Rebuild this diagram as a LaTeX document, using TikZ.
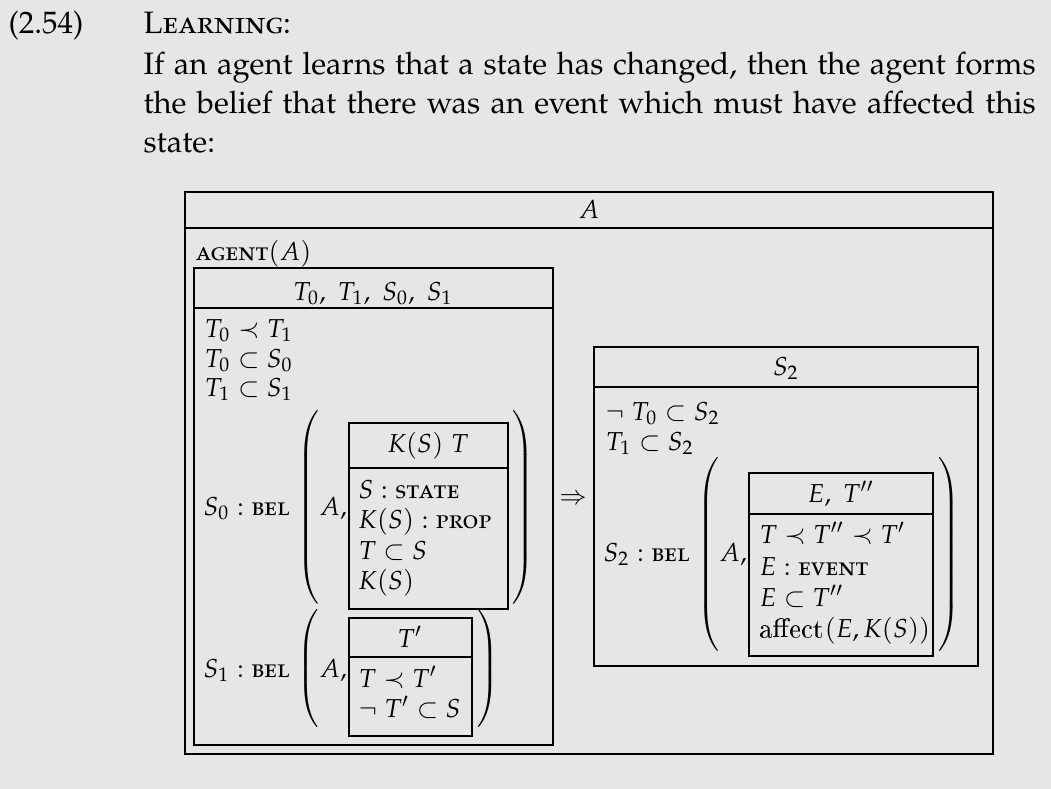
\documentclass[tikz,border=0pt]{standalone}
\usepackage[T1]{fontenc}
\usepackage[sc]{mathpazo}
\usepackage{graphicx}
\renewcommand{\sfdefault}{lmss}

\definecolor{pagegray}{RGB}{230,230,230}

% big delimiters of a given total height
\newcommand{\openpar}[1]{\resizebox*{!}{#1}{$\left(\vrule height \dimexpr#1/2\relax depth \dimexpr#1/2\relax width 0pt\right.$}}
\newcommand{\closepar}[1]{\resizebox*{!}{#1}{$\left.\vrule height \dimexpr#1/2\relax depth \dimexpr#1/2\relax width 0pt\right)$}}

\tikzset{
  maintxt/.style={anchor=base west, inner sep=0pt, font=\fontsize{10.4}{12.5}\selectfont},
  txt/.style={anchor=base west, inner sep=0pt, font=\fontsize{8.7}{10.4}\selectfont},
  ctxt/.style={anchor=base, inner sep=0pt, font=\fontsize{8.7}{10.4}\selectfont},
  paren/.style={inner sep=0pt, font=\fontsize{8.7}{10.4}\selectfont},
  drsbox/.style={draw=black, line width=0.4pt}
}

\begin{document}
\begin{tikzpicture}[x=0.3356pt, y=-0.3356pt]
  % Page
  \fill[pagegray] (0,0) rectangle (1051,789);
  \useasboundingbox (0,0) rectangle (1051,789);

  % Heading and text
  \node[maintxt] (num) at (8,34) {(2.54)};
  \node[maintxt] (title) at (143,34) {\textsc{Learning}:};
  \node[maintxt] (line1) at (143,75) {\makebox[299.4pt][s]{If an agent learns that a state has changed, then the agent forms}};
  \node[maintxt] (line2) at (143,114) {\makebox[299.4pt][s]{the belief that there was an event which must have affected this}};
  \node[maintxt] (line3) at (143,152) {state:};

  % Outer box
  \draw[drsbox] (185,192) rectangle (993,754);
  \draw[drsbox] (185,228) -- (993,228);
  \node[ctxt] (refA) at (589,219) {$A$};
  \node[txt] (agent) at (195,260) {\textsc{agent}$(A)$};

  % Left box
  \draw[drsbox] (194,268) rectangle (553,745);
  \draw[drsbox] (194,308) -- (553,308);
  \node[ctxt] (refL) at (373,300) {$T_0,\ T_1,\ S_0,\ S_1$};
  \node[txt] (condL1) at (204,337) {$T_0 \prec T_1$};
  \node[txt] (condL2) at (204,367) {$T_0 \subset S_0$};
  \node[txt] (condL3) at (204,396) {$T_1 \subset S_1$};

  % S0 belief
  \node[txt] (belS0) at (203,515) {$S_0 : \textsc{bel}$};
  \node[paren] (opS0) at (310,509) {\openpar{66.4pt}};
  \node[txt] (agS0) at (319,515) {$A,$};
  \draw[drsbox] (349,423) rectangle (508,609);
  \draw[drsbox] (349,468) -- (508,468);
  \node[ctxt] (refK) at (428,452) {$K(S)\ T$};
  \node[txt] (condK1) at (358,498) {$S : \textsc{state}$};
  \node[txt] (condK2) at (358,528) {$K(S) : \textsc{prop}$};
  \node[txt] (condK3) at (358,559) {$T \subset S$};
  \node[txt] (condK4) at (358,589) {$K(S)$};
  \node[paren] (clS0) at (522,509) {\closepar{66.4pt}};

  % S1 belief
  \node[txt] (belS1) at (203,677) {$S_1 : \textsc{bel}$};
  \node[paren] (opS1) at (310,671) {\openpar{41pt}};
  \node[txt] (agS1) at (319,677) {$A,$};
  \draw[drsbox] (349,618) rectangle (472,736);
  \draw[drsbox] (349,657) -- (472,657);
  \node[ctxt] (refT) at (410,647) {$T'$};
  \node[txt] (condT1) at (358,687) {$T \prec T'$};
  \node[txt] (condT2) at (358,717) {$\neg\; T' \subset S$};
  \node[paren] (clS1) at (486,671) {\closepar{41pt}};

  % Implication
  \node[paren] (impl) at (573,500) {$\Rightarrow$};

  % Right box
  \draw[drsbox] (594,347) rectangle (978,666);
  \draw[drsbox] (594,387) -- (978,387);
  \node[ctxt] (refR) at (786,375) {$S_2$};
  \node[txt] (condR1) at (605,420) {$\neg\; T_0 \subset S_2$};
  \node[txt] (condR2) at (605,450) {$T_1 \subset S_2$};

  % S2 belief
  \node[txt] (belS2) at (603,561) {$S_2 : \textsc{bel}$};
  \node[paren] (opS2) at (710,557) {\openpar{66.8pt}};
  \node[txt] (agS2) at (719,561) {$A,$};
  \draw[drsbox] (749,473) rectangle (933,656);
  \draw[drsbox] (749,514) -- (933,514);
  \node[ctxt] (refE) at (841,502) {$E,\ T''$};
  \node[txt] (condE1) at (759,543) {$T \prec T'' \prec T'$};
  \node[txt] (condE2) at (759,575) {$E : \textsc{event}$};
  \node[txt] (condE3) at (759,606) {$E \subset T''$};
  \node[txt] (condE4) at (759,637) {$\textsf{affect}(E, K(S))$};
  \node[paren] (clS2) at (948,557) {\closepar{66.8pt}};
\end{tikzpicture}
\end{document}
